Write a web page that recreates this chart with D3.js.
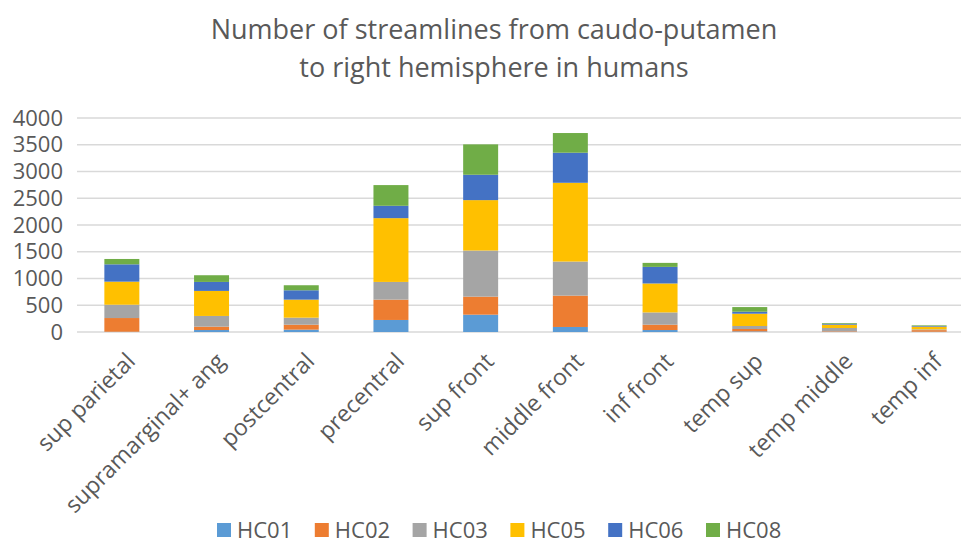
<!DOCTYPE html>
<html>
<head>
<meta charset="utf-8">
<script src="https://cdn.jsdelivr.net/npm/d3@7"></script>
<style>
  body { margin: 0; background: #fff; }
  svg text { font-family: "Open Sans", "Noto Sans", sans-serif; fill: #595959; }
</style>
</head>
<body>
<div id="chart"></div>
<script>
var regions = ['sup parietal', 'supramarginal+ ang', 'postcentral', 'precentral', 'sup front',
    'middle front', 'inf front', 'temp sup', 'temp middle', 'temp inf'];
var subjects = ['HC01', 'HC02', 'HC03', 'HC05', 'HC06', 'HC08'];
var HC01 = [5, 37, 44, 225, 324, 94, 37, 12, 5, 5];
var HC02 = [256, 63, 93, 380, 337, 586, 100, 44, 10, 30];
var HC03 = [249, 200, 131, 331, 862, 637, 229, 56, 60, 15];
var HC05 = [431, 468, 337, 1192, 942, 1472, 541, 230, 62, 50];
var HC06 = [324, 168, 175, 231, 474, 562, 310, 37, 18, 12];
var HC08 = [100, 125, 94, 387, 568, 368, 75, 87, 13, 12];
var yTicks = [0, 500, 1000, 1500, 2000, 2500, 3000, 3500, 4000];
var colors = ['#5B9BD5', '#ED7D31', '#A5A5A5', '#FFC000', '#4472C4', '#70AD47'];

window.addEventListener('load', function() {
    var W = 961, H = 540,
        left = 77, right = 974, top = 118, bottom = 332;

    var rows = regions.map(function(r, i) {
        return {region: r, HC01: HC01[i], HC02: HC02[i], HC03: HC03[i],
                HC05: HC05[i], HC06: HC06[i], HC08: HC08[i]};
    });
    var series = d3.stack().keys(subjects)(rows);

    var svg = d3.select('#chart').append('svg').attr('width', W).attr('height', H);

    var x = d3.scaleBand().domain(regions).range([left, right])
        .paddingInner(0.61).paddingOuter(0.305);
    var y = d3.scaleLinear().domain([0, 4000]).range([bottom, top]);
    var color = d3.scaleOrdinal().domain(subjects).range(colors);

    // title
    svg.append('text').attr('x', 494).attr('y', 39).attr('text-anchor', 'middle')
        .style('font-size', '27px').text('Number of streamlines from caudo-putamen');
    svg.append('text').attr('x', 494).attr('y', 77).attr('text-anchor', 'middle')
        .style('font-size', '27px').text('to right hemisphere in humans');

    // grid
    svg.append('g').selectAll('line').data(yTicks).enter().append('line')
        .attr('x1', left).attr('x2', W)
        .attr('y1', function(d) { return y(d); }).attr('y2', function(d) { return y(d); })
        .style('stroke', '#D9D9D9').style('stroke-width', 1.3);

    // y labels
    var yAxis = svg.append('g').attr('transform', 'translate(' + (left - 14) + ',0)')
        .call(d3.axisLeft(y).tickValues(yTicks).tickFormat(d3.format('d')).tickSize(0).tickPadding(0));
    yAxis.select('.domain').remove();
    yAxis.selectAll('text').style('font-size', '22px').style('fill', '#595959')
        .style('font-family', '"Open Sans", sans-serif');

    // bars
    svg.append('g').selectAll('g').data(series).enter().append('g')
        .style('fill', function(d) { return color(d.key); })
        .selectAll('rect').data(function(d) { return d; }).enter().append('rect')
        .attr('x', function(d) { return x(d.data.region); })
        .attr('width', x.bandwidth())
        .attr('y', function(d) { return y(d[1]); })
        .attr('height', function(d) { return y(d[0]) - y(d[1]); });

    // x labels
    svg.append('g').selectAll('text').data(regions).enter().append('text')
        .attr('transform', function(d) {
            return 'translate(' + (x(d) + x.bandwidth() / 2 + 9) + ',' + 357 + ') rotate(-45)';
        })
        .attr('text-anchor', 'end').attr('dy', '0.35em')
        .style('font-size', '23px').text(function(d) { return d; });

    // legend
    var leg = svg.append('g').selectAll('g').data(subjects).enter().append('g')
        .attr('transform', function(d, i) { return 'translate(' + (217 + i * 97.8) + ',530)'; });
    leg.append('rect').attr('x', 0).attr('y', -7).attr('width', 14).attr('height', 14)
        .style('fill', function(d) { return color(d); });
    leg.append('text').attr('x', 20).attr('dy', '0.35em')
        .style('font-size', '22px').text(function(d) { return d; });
});
</script>
</body>
</html>
